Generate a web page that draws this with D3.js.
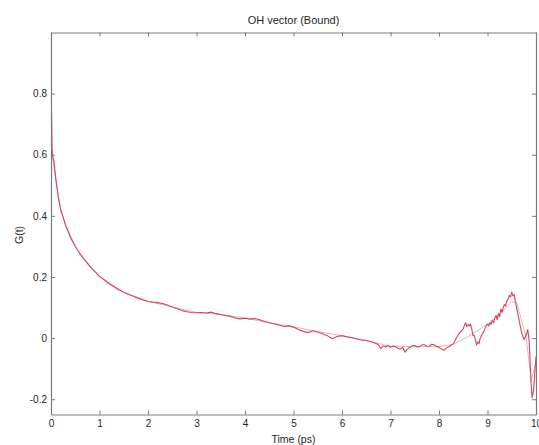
<!DOCTYPE html>
<html>
<head>
<meta charset="utf-8">
<script src="https://cdn.jsdelivr.net/npm/d3@7/dist/d3.min.js"></script>
<style>
  html, body { margin: 0; padding: 0; background: #fff; }
  svg { display: block; font-family: "Liberation Sans", Arial, sans-serif; }
</style>
</head>
<body>
<svg id="chart" width="539" height="445"></svg>
<script>
// Orientational correlation G(t) of the bound OH vector
const rawTimes = [
  0, 0.01, 0.02, 0.04, 0.06, 0.08, 0.1, 0.15, 0.2, 0.25, 0.3, 0.4, 0.5, 0.6, 0.7, 0.8, 0.9,
  1.0, 1.1, 1.2, 1.3, 1.4, 1.5, 1.6, 1.7, 1.8, 1.9,
  2.0, 2.1, 2.2, 2.3, 2.4, 2.5, 2.6, 2.7, 2.8, 2.9,
  3.0, 3.1, 3.2, 3.3, 3.4, 3.5, 3.6, 3.7, 3.8, 3.9,
  4.0, 4.1, 4.2, 4.3, 4.4, 4.5, 4.6, 4.7, 4.8, 4.9,
  5.0, 5.1, 5.2, 5.3, 5.4, 5.5, 5.6, 5.7, 5.8, 5.9,
  6.0, 6.1, 6.2, 6.3, 6.4, 6.5, 6.6, 6.7, 6.75, 6.8, 6.85, 6.9, 6.95,
  7.0, 7.05, 7.1, 7.15, 7.2, 7.25, 7.3, 7.35, 7.4, 7.45, 7.5, 7.55, 7.6, 7.65, 7.7, 7.75, 7.8, 7.85, 7.9, 7.95,
  8.0, 8.05, 8.1, 8.15, 8.2, 8.25, 8.3, 8.35, 8.4, 8.45, 8.5, 8.525, 8.55, 8.575, 8.6, 8.625, 8.65, 8.675,
  8.7, 8.725, 8.75, 8.775, 8.8, 8.825, 8.85, 8.875, 8.9, 8.925, 8.95, 8.975,
  9.0, 9.025, 9.05, 9.075, 9.1, 9.125, 9.15, 9.175, 9.2, 9.225, 9.25, 9.275, 9.3, 9.325, 9.35, 9.375,
  9.4, 9.425, 9.45, 9.475, 9.5, 9.525, 9.55, 9.575, 9.6, 9.65, 9.7, 9.75, 9.8, 9.83, 9.86,
  9.9, 9.92, 9.95, 10.0
];
const gRaw = [
  0.91, 0.75, 0.62, 0.59, 0.58, 0.55, 0.52, 0.46, 0.42, 0.395, 0.37, 0.33, 0.30, 0.275, 0.255, 0.235, 0.218,
  0.202, 0.19, 0.178, 0.168, 0.158, 0.150, 0.143, 0.137, 0.130, 0.125,
  0.120, 0.118, 0.116, 0.113, 0.108, 0.102, 0.096, 0.090, 0.086, 0.084,
  0.083, 0.084, 0.082, 0.085, 0.080, 0.077, 0.074, 0.071, 0.066, 0.063,
  0.065, 0.062, 0.064, 0.060, 0.055, 0.050, 0.047, 0.043, 0.038, 0.040,
  0.036, 0.028, 0.022, 0.018, 0.024, 0.020, 0.014, 0.008, -0.002, 0.005,
  0.008, 0.004, 0.002, -0.003, -0.006, -0.008, -0.012, -0.018, -0.022, -0.034, -0.026, -0.029, -0.024,
  -0.030, -0.026, -0.028, -0.033, -0.036, -0.030, -0.046, -0.036, -0.030, -0.025, -0.024, -0.029, -0.028, -0.022, -0.022, -0.027, -0.026, -0.020, -0.022, -0.027,
  -0.030, -0.036, -0.040, -0.033, -0.028, -0.024, -0.018, -0.002, 0.012, 0.022, 0.030, 0.042, 0.050, 0.038, 0.044, 0.040, 0.046, 0.030,
  0.008, 0.010, -0.005, -0.022, -0.012, -0.018, 0.000, 0.008, 0.015, 0.022, 0.032, 0.040,
  0.046, 0.040, 0.050, 0.045, 0.058, 0.050, 0.066, 0.074, 0.060, 0.080, 0.070, 0.095, 0.085, 0.100, 0.110, 0.105,
  0.122, 0.128, 0.140, 0.135, 0.150, 0.138, 0.142, 0.120, 0.100, 0.060, 0.020, -0.005, 0.010, 0.028, -0.010,
  -0.150, -0.195, -0.170, -0.060
];

// Smoothed companion curve
const smoothTimes = [0, 0.02, 0.05, 0.1, 0.2, 0.3, 0.5, 0.7, 1, 1.5, 2, 2.5, 3, 3.5, 4, 4.5, 5, 5.5, 6, 6.5, 7, 7.5, 8, 8.3, 8.6, 9, 9.3, 9.5, 9.6, 9.7, 9.8, 9.9, 10];
const gSmooth = [0.91, 0.62, 0.57, 0.52, 0.42, 0.37, 0.30, 0.255, 0.202, 0.150, 0.120, 0.102, 0.084, 0.077, 0.066, 0.050, 0.037, 0.021, 0.008, -0.008, -0.027, -0.028, -0.028, -0.020, 0.005, 0.045, 0.085, 0.120, 0.115, 0.060, 0.000, -0.140, -0.080];

const xTicks = [0, 1, 2, 3, 4, 5, 6, 7, 8, 9, 10];
const xTickLabels = ["0", "1", "2", "3", "4", "5", "6", "7", "8", "9", "10"];
const yTicks = [-0.2, 0, 0.2, 0.4, 0.6, 0.8];
const yTickLabels = ["-0.2", "0", "0.2", "0.4", "0.6", "0.8"];

const svg = d3.select("#chart");
const plotLeft = 51, plotRight = 536, plotTop = 32.5, plotBottom = 414.5;

const x = d3.scaleLinear().domain([0, 10]).range([plotLeft, plotRight]);
const y = d3.scaleLinear().domain([-0.25, 1]).range([plotBottom, plotTop]);

const axisColor = "#7a7a7a";
const textColor = "#262626";

// lines
const line = d3.line().x(d => x(d[0])).y(d => y(d[1]));
svg.append("clipPath").attr("id", "plotClip")
  .append("rect").attr("x", plotLeft).attr("y", plotTop)
  .attr("width", plotRight - plotLeft).attr("height", plotBottom - plotTop);

const plot = svg.append("g").attr("clip-path", "url(#plotClip)");
plot.append("path")
  .datum(smoothTimes.map((t, i) => [t, gSmooth[i]]))
  .attr("fill", "none").attr("stroke", "#e9b0b9").attr("stroke-width", 1)
  .attr("d", line);
plot.append("path")
  .datum(rawTimes.map((t, i) => [t, gRaw[i]]))
  .attr("fill", "none").attr("stroke", "#d2445e").attr("stroke-width", 1.1)
  .attr("stroke-linejoin", "round")
  .attr("d", line);

// axes (ticks pointing inward on all four sides)
function styleAxis(g, showText) {
  g.selectAll(".domain").attr("stroke", axisColor).attr("stroke-width", 1.2);
  g.selectAll(".tick line").attr("stroke", axisColor);
  g.selectAll(".tick text").attr("fill", textColor).style("font-size", "10px")
    .style("font-family", "'Liberation Sans', Arial, sans-serif");
  if (!showText) g.selectAll(".tick text").remove();
}

svg.append("g").attr("transform", `translate(0,${plotBottom})`)
  .call(d3.axisBottom(x).tickValues(xTicks).tickFormat((d, i) => xTickLabels[i]).tickSizeInner(-4).tickSizeOuter(0).tickPadding(5))
  .call(g => styleAxis(g, true));
svg.append("g").attr("transform", `translate(0,${plotTop})`)
  .call(d3.axisTop(x).tickValues(xTicks).tickSizeInner(-4).tickSizeOuter(0))
  .call(g => styleAxis(g, false));
svg.append("g").attr("transform", `translate(${plotLeft},0)`)
  .call(d3.axisLeft(y).tickValues(yTicks).tickFormat((d, i) => yTickLabels[i]).tickSizeInner(-4).tickSizeOuter(0).tickPadding(4))
  .call(g => styleAxis(g, true));
svg.append("g").attr("transform", `translate(${plotRight},0)`)
  .call(d3.axisRight(y).tickValues(yTicks).tickSizeInner(-4).tickSizeOuter(0))
  .call(g => styleAxis(g, false));

// titles
svg.append("text").attr("x", (plotLeft + plotRight) / 2).attr("y", 24)
  .attr("text-anchor", "middle").attr("fill", textColor).style("font-size", "11px")
  .text("OH vector (Bound)");
svg.append("text").attr("x", (plotLeft + plotRight) / 2).attr("y", 443)
  .attr("text-anchor", "middle").attr("fill", textColor).style("font-size", "10.5px")
  .text("Time (ps)");
svg.append("text").attr("transform", "translate(23,235) rotate(-90)")
  .attr("text-anchor", "middle").attr("fill", textColor).style("font-size", "10.5px")
  .text("G(t)");
</script>
</body>
</html>
